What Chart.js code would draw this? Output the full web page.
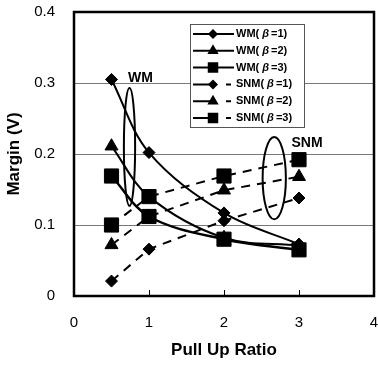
<!DOCTYPE html>
<html>
<head>
<meta charset="utf-8">
<script src="https://cdn.jsdelivr.net/npm/chart.js@4.4.1/dist/chart.umd.min.js"></script>
<style>
  html, body { margin: 0; padding: 0; background: #fff; }
  #wrap { width: 378px; height: 365px; }
</style>
</head>
<body>
<div id="wrap"><canvas id="marginChart"></canvas></div>
<script>
// values
const pullUpRatio = [0.5, 1, 2, 3];
const wmBeta1 = [0.305, 0.202, 0.117, 0.073];
const wmBeta2 = [0.211, 0.140, 0.082, 0.071];
const wmBeta3 = [0.169, 0.112, 0.080, 0.065];
const snmBeta1 = [0.021, 0.066, 0.106, 0.138];
const snmBeta2 = [0.072, 0.112, 0.149, 0.168];
const snmBeta3 = [0.100, 0.140, 0.169, 0.192];

const xTicks = [0, 1, 2, 3, 4];
const yTicks = [0, 0.1, 0.2, 0.3, 0.4];

const FONT = '"Liberation Sans", Arial, sans-serif';

function toPoints(ys) {
    return ys.map((y, i) => ({ x: pullUpRatio[i], y: y }));
}

function series(label, ys, style, radius, dashed, width) {
    return {
        label: label,
        data: toPoints(ys),
        borderColor: '#000',
        backgroundColor: '#000',
        borderWidth: width || 2,
        borderDash: dashed ? [9, 7] : [],
        tension: dashed ? 0 : 0.35,
        pointStyle: style,
        pointRadius: radius,
        pointBackgroundColor: '#000',
        pointBorderColor: '#000',
        pointBorderWidth: 1,
        fill: false
    };
}

// ellipses, group labels, frame, legend box
const decorations = {
    id: 'decorations',
    afterDraw(chart) {
        const ctx = chart.ctx;
        const xs = chart.scales.x, ys = chart.scales.y;
        const area = chart.chartArea;
        ctx.save();
        ctx.setLineDash([]);
        ctx.strokeStyle = '#000';
        ctx.fillStyle = '#000';

        // ellipses
        ctx.lineWidth = 2;
        ctx.beginPath();
        ctx.ellipse(xs.getPixelForValue(0.74), ys.getPixelForValue(0.21),
            xs.getPixelForValue(0.74) - xs.getPixelForValue(0.665),
            ys.getPixelForValue(0.127) - ys.getPixelForValue(0.21), 0, 0, Math.PI * 2);
        ctx.stroke();
        ctx.beginPath();
        ctx.ellipse(xs.getPixelForValue(2.67), ys.getPixelForValue(0.166),
            xs.getPixelForValue(2.67) - xs.getPixelForValue(2.515),
            ys.getPixelForValue(0.108) - ys.getPixelForValue(0.166), 0, 0, Math.PI * 2);
        ctx.stroke();

        // group labels
        ctx.font = 'bold 14px ' + FONT;
        ctx.textAlign = 'left';
        ctx.textBaseline = 'middle';
        ctx.fillText('WM', xs.getPixelForValue(0.72), ys.getPixelForValue(0.307));
        ctx.fillText('SNM', xs.getPixelForValue(2.9), ys.getPixelForValue(0.215));

        // x tick marks pointing inward
        ctx.lineWidth = 1;
        xTicks.slice(1, 4).forEach(v => {
            const px = Math.round(xs.getPixelForValue(v)) + 0.5;
            ctx.beginPath();
            ctx.moveTo(px, area.bottom);
            ctx.lineTo(px, area.bottom - 6);
            ctx.stroke();
        });

        // frame
        ctx.lineWidth = 2.5;
        ctx.strokeRect(area.left, area.top, area.right - area.left, area.bottom - area.top);

        // legend
        const lx = 190, ly = 24, lw = 114, lh = 103;
        ctx.fillStyle = '#fff';
        ctx.fillRect(lx, ly, lw, lh);
        ctx.strokeStyle = '#555';
        ctx.lineWidth = 1;
        ctx.strokeRect(lx + 0.5, ly + 0.5, lw, lh);
        ctx.strokeStyle = '#000';
        ctx.fillStyle = '#000';
        chart.data.datasets.forEach((ds, i) => {
            const y = ly + 10 + i * 16.8;
            const dashed = ds.borderDash.length > 0;
            ctx.lineWidth = 2;
            ctx.beginPath();
            ctx.moveTo(lx + 3, y);
            ctx.lineTo(dashed ? lx + 24 : lx + 44, y);
            if (dashed) {
                ctx.moveTo(lx + 36, y);
                ctx.lineTo(lx + 41, y);
            }
            ctx.stroke();
            Chart.helpers.drawPoint(ctx, {
                pointStyle: ds.pointStyle,
                radius: ds.pointRadius * 0.6,
                rotation: 0,
                borderWidth: 1
            }, lx + 23, y);
            ctx.fill();
            // label with italic beta
            const name = ds.label.split('|');
            let tx = lx + 46;
            ctx.font = 'bold 11px ' + FONT;
            ctx.fillText(name[0], tx, y);
            tx += ctx.measureText(name[0]).width + 3;
            ctx.font = 'bold italic 11px ' + FONT;
            ctx.fillText('β', tx, y);
            tx += ctx.measureText('β').width + 2;
            ctx.font = 'bold 11px ' + FONT;
            ctx.fillText(name[1], tx, y);
        });
        ctx.restore();
    }
};

new Chart(document.getElementById('marginChart'), {
    type: 'line',
    data: {
        datasets: [
            series('WM(|=1)', wmBeta1, 'rectRot', 6, false),
            series('WM(|=2)', wmBeta2, 'triangle', 7.5, false),
            series('WM(|=3)', wmBeta3, 'rect', 10, false, 2.5),
            series('SNM(|=1)', snmBeta1, 'rectRot', 6, true),
            series('SNM(|=2)', snmBeta2, 'triangle', 7.5, true),
            series('SNM(|=3)', snmBeta3, 'rect', 10, true)
        ]
    },
    options: {
        responsive: true,
        maintainAspectRatio: false,
        animation: false,
        layout: { autoPadding: false, padding: { top: 12, right: 4, left: 0, bottom: 0 } },
        plugins: {
            legend: { display: false },
            tooltip: { enabled: false }
        },
        scales: {
            x: {
                type: 'linear',
                min: 0,
                max: 4,
                afterBuildTicks: s => { s.ticks = xTicks.map(v => ({ value: v })); },
                afterFit: s => { s.height = 69; s.paddingLeft = 0; s.paddingRight = 0; },
                grid: { display: false, drawTicks: false },
                border: { display: false },
                ticks: {
                    padding: 18,
                    color: '#000',
                    font: { family: FONT, size: 15 },
                    callback: v => String(v)
                },
                title: {
                    display: true,
                    text: 'Pull Up Ratio',
                    color: '#000',
                    font: { family: FONT, size: 17, weight: 'bold' },
                    padding: { top: 4, bottom: 4 }
                }
            },
            y: {
                min: 0,
                max: 0.4,
                afterBuildTicks: s => { s.ticks = yTicks.map(v => ({ value: v })); },
                afterFit: s => { s.width = 74; s.paddingTop = 0; s.paddingBottom = 0; },
                grid: {
                    drawTicks: false,
                    color: c => (c.tick && c.tick.value > 0.01 && c.tick.value < 0.39) ? '#777' : 'rgba(0,0,0,0)',
                    lineWidth: 1
                },
                border: { display: false },
                ticks: {
                    padding: 19,
                    color: '#000',
                    font: { family: FONT, size: 15 },
                    callback: v => (v === 0 ? '0' : v.toFixed(1))
                },
                title: {
                    display: true,
                    text: 'Margin (V)',
                    color: '#000',
                    font: { family: FONT, size: 17, weight: 'bold' },
                    padding: { top: 4, bottom: 4 }
                }
            }
        }
    },
    plugins: [decorations]
});
</script>
</body>
</html>
